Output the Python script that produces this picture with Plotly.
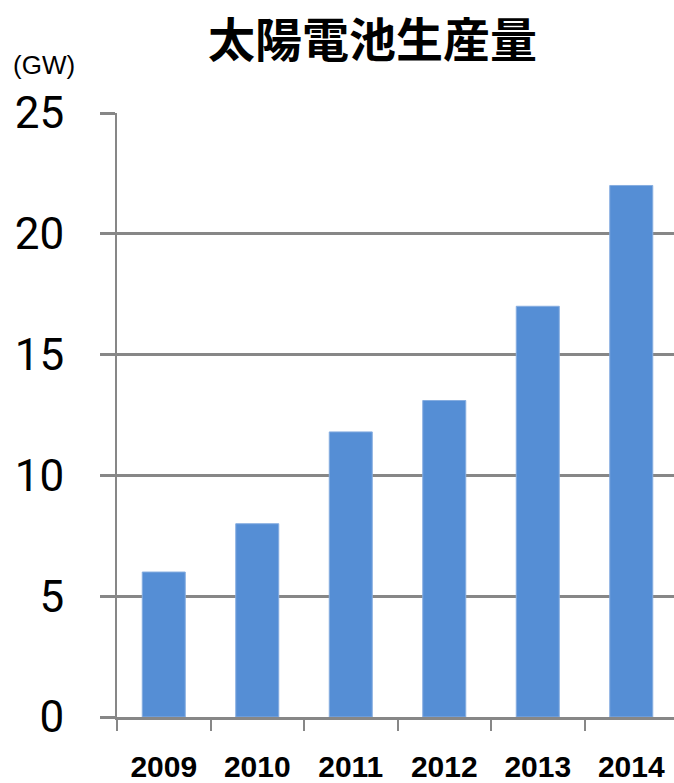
import plotly.graph_objects as go

# Solar cell production by year (GW)
years = ["2009", "2010", "2011", "2012", "2013", "2014"]
production_gw = [6, 8, 11.8, 13.1, 17, 22]
y_ticks = [0, 5, 10, 15, 20, 25]

title_text = "太陽電池生産量"
unit_text = "(GW)"

W, H = 674, 783
L, R, T, B = 117, 0, 113, 63

GRID = "#878787"
BAR = "#558ed5"

fig = go.Figure(
    go.Bar(
        x=years,
        y=production_gw,
        marker=dict(color=BAR, line=dict(color="#86ade0", width=1)),
        hoverinfo="x+y",
    )
)

fig.update_layout(
    width=W,
    height=H,
    margin=dict(l=L, r=R, t=T, b=B, pad=0),
    paper_bgcolor="white",
    plot_bgcolor="white",
    bargap=0.54,
    showlegend=False,
    annotations=[
        dict(
            text=title_text,
            xref="paper",
            yref="paper",
            x=(372.5 - L) / (W - L - R),
            y=(H - B - 36) / (H - T - B),
            xanchor="center",
            yanchor="middle",
            showarrow=False,
            font=dict(family="Noto Sans CJK JP", size=47, color="black", weight="bold"),
        ),
        dict(
            text=unit_text,
            xref="paper",
            yref="paper",
            x=(11 - L) / (W - L - R),
            y=(H - B - 65) / (H - T - B),
            xanchor="left",
            yanchor="middle",
            showarrow=False,
            font=dict(family="Liberation Sans", size=26, color="black"),
        ),
    ],
)

fig.update_xaxes(
    type="category",
    range=[-0.5, 5.457],
    showline=True,
    linecolor=GRID,
    linewidth=3,
    showgrid=False,
    ticks="outside",
    tickson="boundaries",
    ticklen=11,
    tickwidth=2,
    tickcolor=GRID,
    ticklabelstandoff=21,
    tickfont=dict(family="Liberation Sans", size=30, color="black", weight="bold"),
    fixedrange=True,
)

fig.update_yaxes(
    range=[0, 25],
    tickvals=y_ticks,
    showline=True,
    linecolor=GRID,
    linewidth=2,
    showgrid=True,
    gridcolor=GRID,
    gridwidth=2.5,
    zeroline=False,
    ticks="outside",
    ticklen=15,
    tickwidth=2.5,
    tickcolor=GRID,
    ticklabelstandoff=27,
    tickfont=dict(family="Roboto", size=44, color="black"),
    fixedrange=True,
)

fig.write_html("out.html", config={"displayModeBar": False})
